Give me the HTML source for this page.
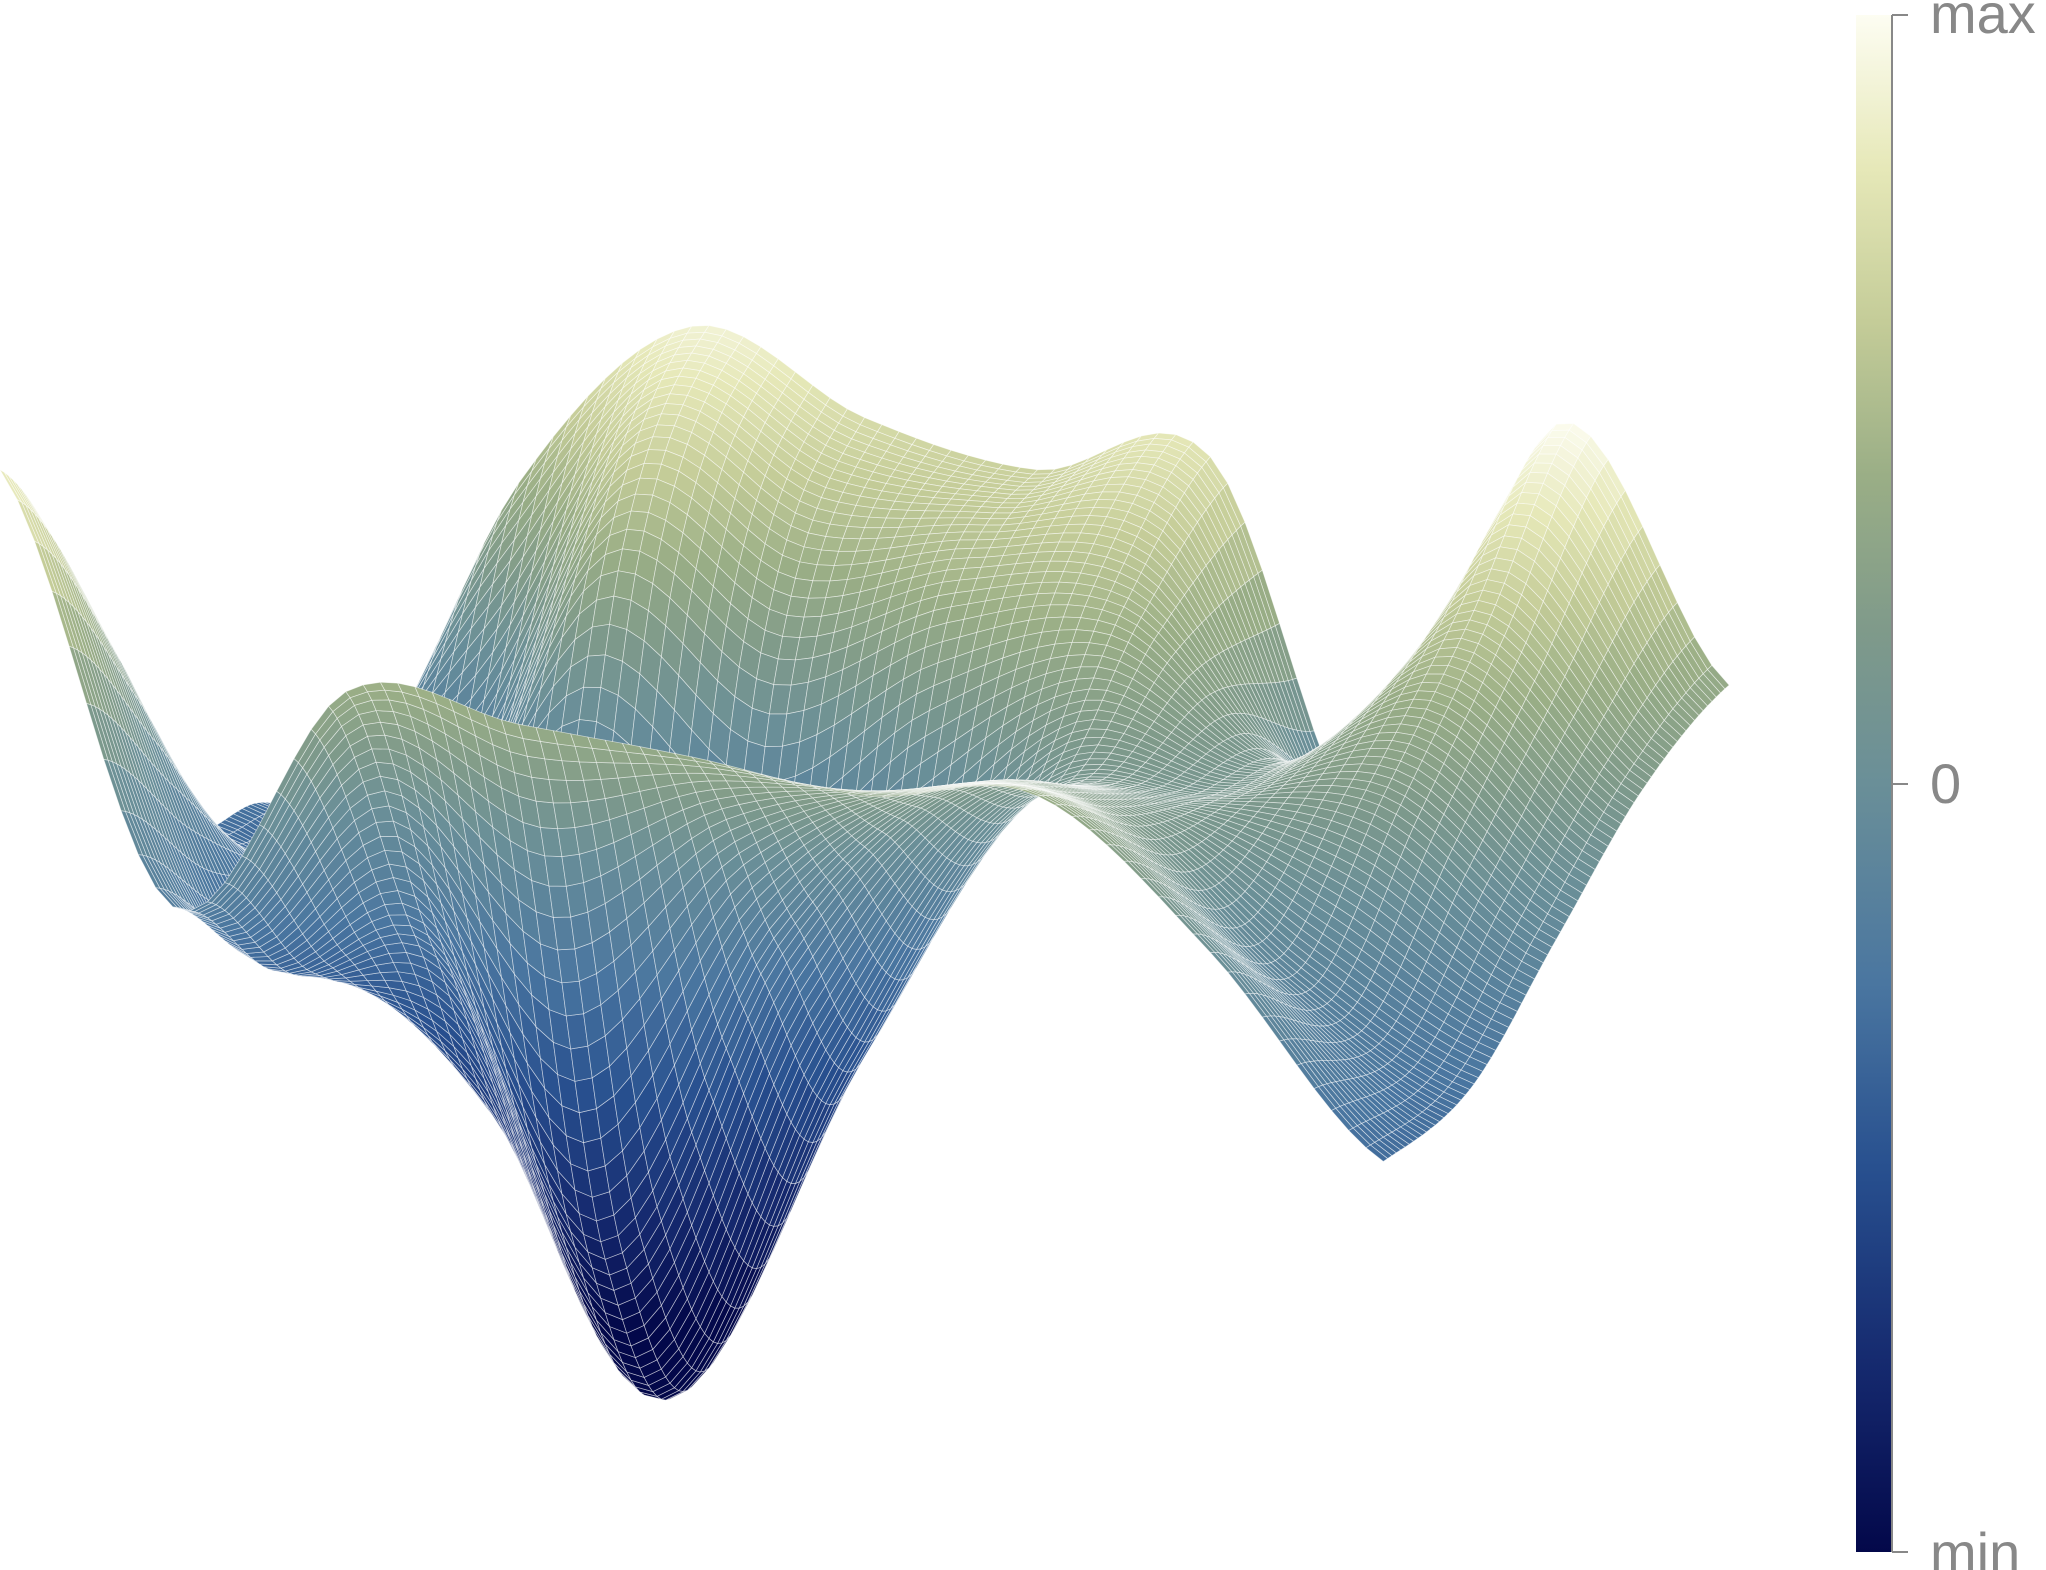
<!DOCTYPE html>
<html><head><meta charset="utf-8"><style>
html,body{margin:0;padding:0;background:#fff;}
svg{display:block}
</style></head><body>
<svg id="chart" width="2046" height="1570" viewBox="0 0 2046 1570" xmlns="http://www.w3.org/2000/svg">
<defs>
<linearGradient id="cbar" x1="0" y1="1" x2="0" y2="0">
<stop offset="0" stop-color="#03084a"/><stop offset="0.12" stop-color="#15296e"/><stop offset="0.25" stop-color="#28508f"/><stop offset="0.37" stop-color="#4a76a0"/><stop offset="0.5" stop-color="#6a8f98"/><stop offset="0.6" stop-color="#7f9a8a"/><stop offset="0.7" stop-color="#9aae86"/><stop offset="0.8" stop-color="#c4cc98"/><stop offset="0.9" stop-color="#e6e8b8"/><stop offset="1" stop-color="#fdfdf2"/>
</linearGradient>
</defs>
<g id="surface" transform="scale(1.305)"></g>
<g>
<rect x="1856" y="15" width="36" height="1537" fill="url(#cbar)"/>
<line x1="1892" y1="15" x2="1892" y2="1552" stroke="#888" stroke-width="2"/>
<line x1="1892" y1="15" x2="1908" y2="15" stroke="#888" stroke-width="2"/>
<line x1="1892" y1="784" x2="1908" y2="784" stroke="#888" stroke-width="2"/>
<line x1="1892" y1="1552" x2="1908" y2="1552" stroke="#888" stroke-width="2"/>
<text x="1930" y="33" font-family="Liberation Sans, sans-serif" font-size="56" fill="#888">max</text>
<text x="1930" y="803" font-family="Liberation Sans, sans-serif" font-size="56" fill="#888">0</text>
<text x="1930" y="1572" font-family="Liberation Sans, sans-serif" font-size="56" fill="#888">min</text>
</g>
</svg>
<script>
// height control grid rows (t = 0, .25, .5, .75, 1), columns s = 0..1 in 8 steps
const rowT0 = [240, -75, 110, 105, 100, 90, 110, 10, -130];
const rowT1 = [100, -150, -120, -340, -80, 60, 60, -40, -110];
const rowT2 = [-100, -150, -280, -450, -200, 20, 40, 60, -30];
const rowT3 = [-120, -150, 110, 50, 110, 130, 30, 160, 50];
const rowT4 = [-160, 110, 250, 200, 180, 210, -70, 275, 95];
const zNeg = -400, zPos = 280;
const rows = [rowT0, rowT1, rowT2, rowT3, rowT4];

const L = [0, 600], F = [1060, 760], R = [1325, 620];
function cr(p0,p1,p2,p3,u){return 0.5*((2*p1)+(-p0+p2)*u+(2*p0-5*p1+4*p2-p3)*u*u+(-p0+3*p1-3*p2+p3)*u*u*u);}
function interp1(arr,x){const n=arr.length-1;let f=x*n;let i=Math.min(Math.floor(f),n-1);const u=f-i;
 const g=k=>arr[Math.max(0,Math.min(n,k))];return cr(g(i-1),g(i),g(i+1),g(i+2),u);}
function height(s,t){const col=rows.map(r=>interp1(r,s));return interp1(col,t);}
function proj(s,t,z){return [L[0]+s*(F[0]-L[0])+t*(R[0]-F[0]), L[1]+s*(F[1]-L[1])+t*(R[1]-F[1])-z];}
const stops=[[0,[3,8,74]],[0.12,[21,41,110]],[0.25,[40,80,143]],[0.37,[74,118,160]],[0.5,[106,143,152]],[0.6,[127,154,138]],[0.7,[154,174,134]],[0.8,[196,204,152]],[0.9,[230,232,184]],[1,[253,253,242]]];
function color(z){let c=z<0?0.5+0.5*z/(-zNeg):0.5+0.5*z/zPos; c=Math.max(0,Math.min(1,c));
 for(let i=1;i<stops.length;i++){if(c<=stops[i][0]){const a=stops[i-1],b=stops[i];const u=(c-a[0])/(b[0]-a[0]);
 const m=a[1].map((v,k)=>Math.round(v+(b[1][k]-v)*u));return `rgb(${m[0]},${m[1]},${m[2]})`;}}return 'rgb(253,253,242)';}
const N=80, g=document.getElementById('surface');
const P=[],Z=[];
for(let i=0;i<=N;i++){P.push([]);Z.push([]);for(let j=0;j<=N;j++){const s=i/N,t=j/N;const z=height(s,t);Z[i].push(z);P[i].push(proj(s,t,z));}}
const quads=[];
for(let i=0;i<N;i++)for(let j=0;j<N;j++)quads.push([i,j,(i+0.5)/N-(j+0.5)/N]);
quads.sort((a,b)=>a[2]-b[2]);
let html='';
for(const [i,j] of quads){const a=P[i][j],b=P[i+1][j],c=P[i+1][j+1],d=P[i][j+1];
 const z=(Z[i][j]+Z[i+1][j]+Z[i+1][j+1]+Z[i][j+1])/4;
 html+=`<polygon points="${a[0].toFixed(1)},${a[1].toFixed(1)} ${b[0].toFixed(1)},${b[1].toFixed(1)} ${c[0].toFixed(1)},${c[1].toFixed(1)} ${d[0].toFixed(1)},${d[1].toFixed(1)}" fill="${color(z)}" stroke="rgba(255,255,255,0.6)" stroke-width="0.55"/>`;}
g.innerHTML=html;
</script>
</body></html>
